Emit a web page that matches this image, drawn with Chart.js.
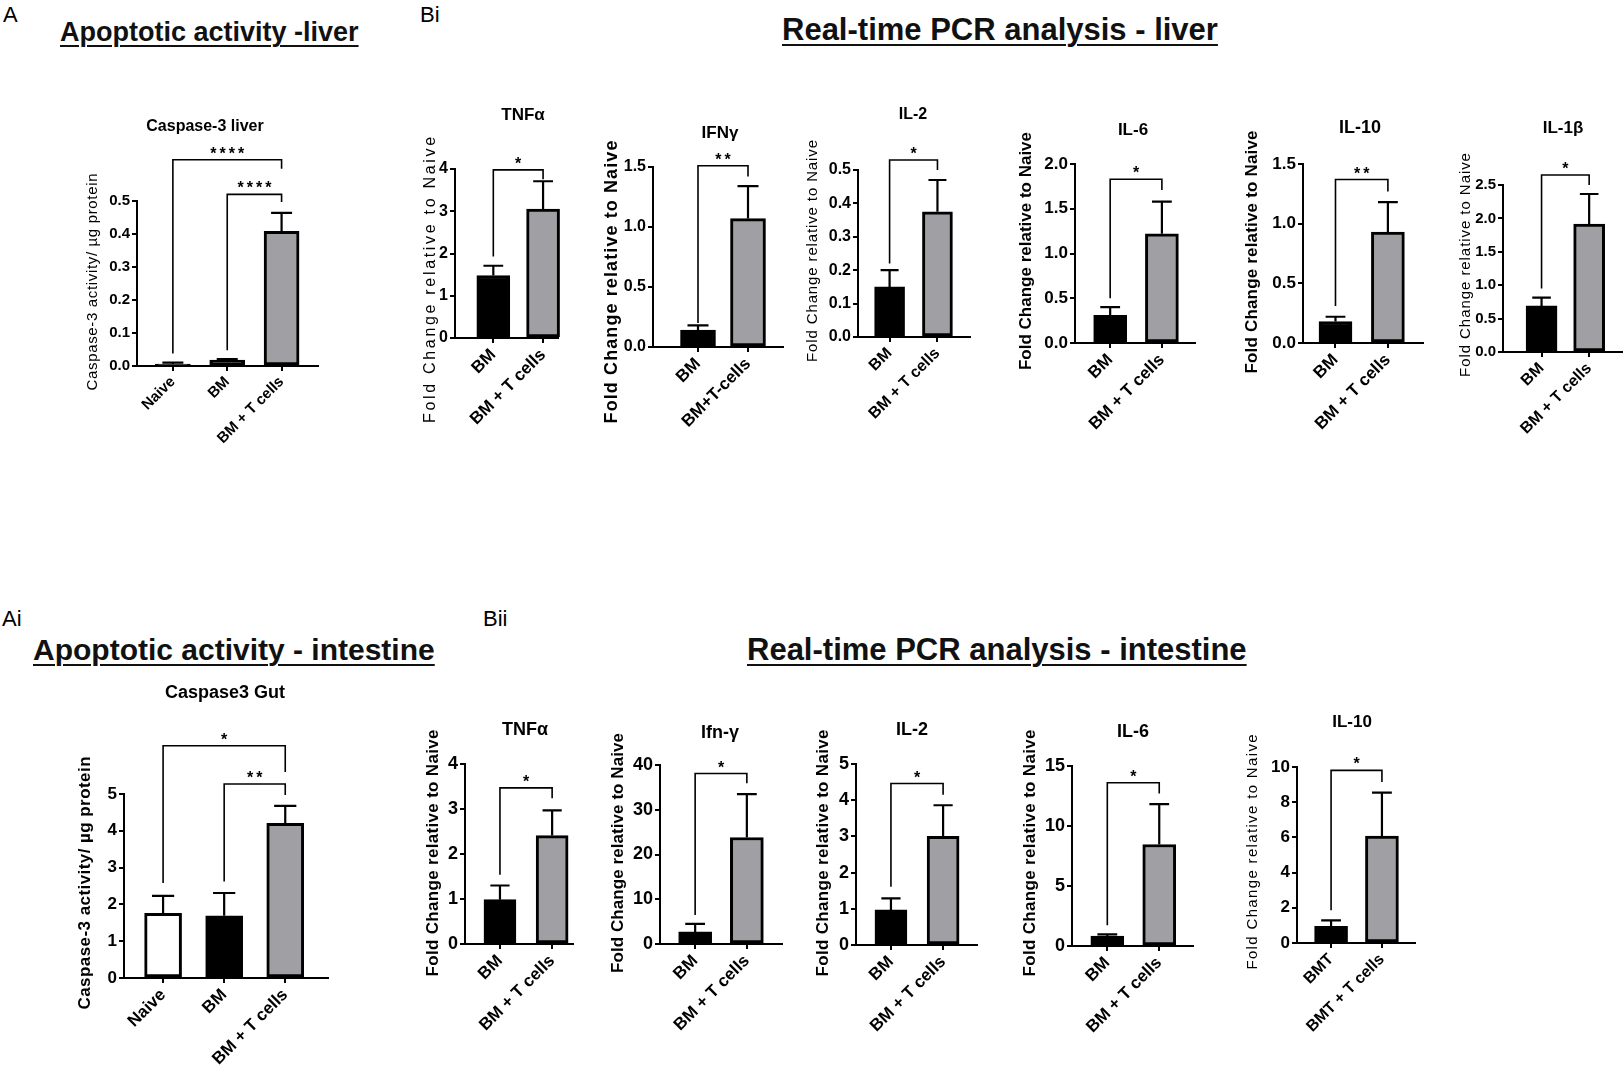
<!DOCTYPE html>
<html>
<head>
<meta charset="utf-8">
<script src="https://cdn.jsdelivr.net/npm/chart.js@4.4.0/dist/chart.umd.min.js"></script>
<style>
body { margin: 0; width: 1624px; height: 1075px; background: #fff; position: relative; overflow: hidden; font-family: 'Liberation Sans', Arial, sans-serif; }
.tag { position: absolute; line-height: 1; font-size: 22px; color: #000; }
.hdr { position: absolute; line-height: 1; font-weight: bold; color: #111; white-space: nowrap;
       text-decoration: underline; text-decoration-thickness: 2px; text-underline-offset: 4px; }
canvas { position: absolute; }
</style>
</head>
<body>
<div class="tag" style="left:3px;top:4px">A</div>
<div class="hdr" style="left:60px;top:19px;font-size:27px">Apoptotic activity -liver</div>
<div class="tag" style="left:420px;top:4px">Bi</div>
<div class="hdr" style="left:782px;top:14px;font-size:31px">Real-time PCR analysis - liver</div>
<div class="tag" style="left:2px;top:608px">Ai</div>
<div class="hdr" style="left:33px;top:635px;font-size:30px">Apoptotic activity - intestine</div>
<div class="tag" style="left:483px;top:608px">Bii</div>
<div class="hdr" style="left:747px;top:634px;font-size:31px">Real-time PCR analysis - intestine</div>

<script>
// ---- data ----
const twoGroups = ['BM', 'BM + T cells'];

const casGroups = ['Naive', 'BM', 'BM + T cells'];
const casLiverMean = [0.006, 0.018, 0.408];
const casLiverErr = [0.01, 0.021, 0.464];
const casGutMean = [1.76, 1.69, 4.2];
const casGutErr = [2.23, 2.31, 4.68];
// [from, to, level, left leg end, right leg end, label]
const casLiverSig = [[0, 2, 0.625, 0.038, 0.598, '****'], [1, 2, 0.52, 0.048, 0.497, '****']];
const casGutSig = [[0, 2, 6.31, 2.58, 5.6, '*'], [1, 2, 5.27, 2.62, 4.97, '**']];

const liverGenes = ['TNFα', 'IFNγ', 'IL-2', 'IL-6', 'IL-10', 'IL-1β'];
const liverGroups = [twoGroups, ['BM', 'BM+T-cells'], twoGroups, twoGroups, twoGroups, twoGroups];
const liverBM = [1.48, 0.14, 0.15, 0.31, 0.18, 0.69];
const liverBMErr = [1.71, 0.18, 0.20, 0.40, 0.22, 0.815];
const liverBMT = [3.05, 1.07, 0.375, 1.22, 0.93, 1.915];
const liverBMTErr = [3.71, 1.34, 0.47, 1.58, 1.18, 2.365];
const liverYMax = [4, 1.5, 0.5, 2, 1.5, 2.5];
const liverYStep = [1, 0.5, 0.1, 0.5, 0.5, 0.5];
const liverStars = ['*', '**', '*', '*', '**', '*'];
const liverBracket = [3.98, 1.51, 0.53, 1.83, 1.37, 2.65];
const liverLegBM = [1.93, 0.2, 0.22, 0.5, 0.31, 0.95];
const liverLegBMT = [3.76, 1.42, 0.5, 1.71, 1.27, 2.5];

const gutGenes = ['TNFα', 'Ifn-γ', 'IL-2', 'IL-6', 'IL-10'];
const gutGroups = [twoGroups, twoGroups, twoGroups, twoGroups, ['BMT', 'BMT + T cells']];
const gutBM = [0.985, 2.7, 0.97, 0.83, 0.95];
const gutBMErr = [1.30, 4.5, 1.29, 0.97, 1.29];
const gutBMT = [2.41, 23.8, 3.0, 8.46, 6.08];
const gutBMTErr = [2.97, 33.5, 3.86, 11.83, 8.54];
const gutYMax = [4, 40, 5, 15, 10];
const gutYStep = [1, 10, 1, 5, 2];
const gutStars = ['*', '*', '*', '*', '*'];
const gutBracket = [3.47, 38.1, 4.46, 13.6, 9.81];
const gutLegBM = [1.54, 6.5, 1.61, 1.73, 1.86];
const gutLegBMT = [3.24, 35.9, 4.15, 12.7, 9.15];

const yTitleFold = 'Fold Change relative to Naive';
const yTitleCas = 'Caspase-3 activity/ µg protein';

// ---- layout (page pixels) ----
const casLiverBox = { axisX: 137, rightX: 318, zeroY: 366, topY: 201, padL: 0.66, padR: 0.67, barW: 35, titleX: 205, titleY: 127, yTitleX: 93, yTitleY: 282, yTitleLen: 217, yTitleSize: 15, yTitleBold: false, tickSize: 15, xTickSize: 15, titleSize: 16 };
const casGutBox = { axisX: 124, rightX: 328, zeroY: 978, topY: 794, padL: 0.64, padR: 0.70, barW: 37, titleX: 225, titleY: 693, yTitleX: 85, yTitleY: 883, yTitleLen: 253, yTitleSize: 17, yTitleBold: true, tickSize: 17, xTickSize: 17, titleSize: 18 };
const liverBoxes = [
  { axisX: 455, rightX: 558, zeroY: 338, topY: 169, padL: 0.77, padR: 0.3, barW: 33, titleX: 523, titleY: 115, yTitleX: 431, yTitleY: 280, yTitleLen: 286, yTitleSize: 16, yTitleBold: false, tickSize: 16, xTickSize: 17, titleSize: 17 },
  { axisX: 653, rightX: 783, zeroY: 347, topY: 167, padL: 0.9, padR: 0.7, barW: 35, titleX: 720, titleY: 133, yTitleX: 612, yTitleY: 282, yTitleLen: 283, yTitleSize: 18, yTitleBold: true, tickSize: 16, xTickSize: 17, titleSize: 17 },
  { axisX: 858, rightX: 970, zeroY: 337, topY: 170, padL: 0.66, padR: 0.68, barW: 30, titleX: 913, titleY: 115, yTitleX: 813, yTitleY: 251, yTitleLen: 222, yTitleSize: 15, yTitleBold: false, tickSize: 16, xTickSize: 16, titleSize: 16 },
  { axisX: 1075, rightX: 1195, zeroY: 343, topY: 164, padL: 0.68, padR: 0.64, barW: 33, titleX: 1133, titleY: 130, yTitleX: 1026, yTitleY: 251, yTitleLen: 237, yTitleSize: 17, yTitleBold: true, tickSize: 17, xTickSize: 17, titleSize: 17 },
  { axisX: 1303, rightX: 1423, zeroY: 343, topY: 164, padL: 0.62, padR: 0.67, barW: 33, titleX: 1360, titleY: 128, yTitleX: 1252, yTitleY: 252, yTitleLen: 243, yTitleSize: 17, yTitleBold: true, tickSize: 17, xTickSize: 17, titleSize: 18 },
  { axisX: 1503, rightX: 1622, zeroY: 352, topY: 185, padL: 0.81, padR: 0.69, barW: 31, titleX: 1563, titleY: 128, yTitleX: 1466, yTitleY: 265, yTitleLen: 224, yTitleSize: 15, yTitleBold: false, tickSize: 15, xTickSize: 16, titleSize: 17 }
];
const gutBoxes = [
  { axisX: 465, rightX: 573, zeroY: 944, topY: 764, padL: 0.67, padR: 0.4, barW: 32, titleX: 525, titleY: 730, yTitleX: 433, yTitleY: 853, yTitleLen: 247, yTitleSize: 17, yTitleBold: true, tickSize: 18, xTickSize: 17, titleSize: 18 },
  { axisX: 660, rightX: 782, zeroY: 944, topY: 765, padL: 0.68, padR: 0.68, barW: 33, titleX: 720, titleY: 733, yTitleX: 618, yTitleY: 853, yTitleLen: 240, yTitleSize: 17, yTitleBold: true, tickSize: 18, xTickSize: 17, titleSize: 18 },
  { axisX: 856, rightX: 977, zeroY: 945, topY: 764, padL: 0.67, padR: 0.65, barW: 32, titleX: 912, titleY: 730, yTitleX: 823, yTitleY: 853, yTitleLen: 247, yTitleSize: 17, yTitleBold: true, tickSize: 18, xTickSize: 17, titleSize: 18 },
  { axisX: 1072, rightX: 1193, zeroY: 946, topY: 766, padL: 0.68, padR: 0.65, barW: 33, titleX: 1133, titleY: 732, yTitleX: 1030, yTitleY: 853, yTitleLen: 247, yTitleSize: 17, yTitleBold: true, tickSize: 18, xTickSize: 17, titleSize: 18 },
  { axisX: 1297, rightX: 1415, zeroY: 943, topY: 767, padL: 0.67, padR: 0.65, barW: 33, titleX: 1352, titleY: 722, yTitleX: 1253, yTitleY: 852, yTitleLen: 235, yTitleSize: 15, yTitleBold: false, tickSize: 17, xTickSize: 16, titleSize: 17 }
];

const FONT = "'Liberation Sans', Arial, sans-serif";
const GREY = '#a0a0a4';
Chart.defaults.font.family = FONT;
Chart.defaults.color = '#000';

// error bars, brackets, panel title and y title
function panelExtras(p, left, top) {
  return {
    id: 'panelExtras',
    afterDraw(chart) {
      const ctx = chart.ctx;
      const xs = chart.scales.x, ys = chart.scales.y;
      const bars = chart.getDatasetMeta(0).data;
      ctx.save();
      ctx.strokeStyle = '#000';
      ctx.fillStyle = '#000';
      ctx.lineWidth = 2.2;
      p.errors.forEach((e, i) => {
        const b = bars[i];
        const yTop = ys.getPixelForValue(e);
        const half = b.width * 0.3;
        ctx.beginPath();
        ctx.moveTo(b.x, b.y);
        ctx.lineTo(b.x, yTop);
        ctx.moveTo(b.x - half, yTop);
        ctx.lineTo(b.x + half, yTop);
        ctx.stroke();
      });
      ctx.lineWidth = 1.6;
      ctx.textAlign = 'center';
      ctx.textBaseline = 'alphabetic';
      p.sig.forEach(s => {
        const x1 = xs.getPixelForValue(s[0] + 1);
        const x2 = xs.getPixelForValue(s[1] + 1);
        const yl = ys.getPixelForValue(s[2]);
        ctx.beginPath();
        ctx.moveTo(x1, ys.getPixelForValue(s[3]));
        ctx.lineTo(x1, yl);
        ctx.lineTo(x2, yl);
        ctx.lineTo(x2, ys.getPixelForValue(s[4]));
        ctx.stroke();
        ctx.font = 'bold 16px ' + FONT;
        ctx.letterSpacing = '3px';
        ctx.fillText(s[5], (x1 + x2) / 2 + 1.5, yl - 1);
        ctx.letterSpacing = '0px';
      });
      // panel title
      ctx.font = 'bold ' + p.titleSize + 'px ' + FONT;
      ctx.textBaseline = 'middle';
      ctx.fillText(p.title, p.titleX - left, p.titleY - top);
      // rotated y-axis title, spaced to its length in the figure
      ctx.font = (p.yTitleBold ? 'bold ' : '') + p.yTitleSize + 'px ' + FONT;
      const w = ctx.measureText(p.yTitle).width;
      const sp = Math.max(0, (p.yTitleLen - w) / (p.yTitle.length - 1));
      ctx.letterSpacing = sp.toFixed(2) + 'px';
      ctx.translate(p.yTitleX - left, p.yTitleY - top);
      ctx.rotate(-Math.PI / 2);
      ctx.fillText(p.yTitle, sp / 2, 0);
      ctx.restore();
    }
  };
}

function makeChart(p) {
  const left = Math.round(p.yTitleX - p.yTitleSize * 0.6 - 4);
  const top = Math.round(p.titleY - 22);
  const right = Math.round(p.rightX + 6);
  const bottom = Math.round(p.zeroY + 122);
  const n = p.labels.length;
  const canvas = document.createElement('canvas');
  canvas.width = right - left;
  canvas.height = bottom - top;
  canvas.style.left = left + 'px';
  canvas.style.top = top + 'px';
  document.body.appendChild(canvas);
  const dec = p.yStep < 1 ? 1 : 0;
  const axisLine = { display: true, color: '#000', width: 2 };
  const tickLines = { drawOnChartArea: false, drawTicks: true, tickLength: 5, color: '#000', lineWidth: 2, offset: false };

  new Chart(canvas, {
    type: 'bar',
    data: {
      datasets: [{
        data: p.values.map((v, i) => ({ x: i + 1, y: v })),
        backgroundColor: p.colors,
        borderColor: '#000',
        borderWidth: 3,
        borderSkipped: false,
        barThickness: p.barW,
        clip: false
      }]
    },
    options: {
      responsive: false,
      animation: false,
      events: [],
      layout: { padding: { left: 0, top: p.topY - top, right: right - p.rightX, bottom: 0 } },
      plugins: { legend: { display: false }, tooltip: { enabled: false } },
      scales: {
        x: {
          type: 'linear',
          offset: false,
          min: 1 - p.padL,
          max: n + p.padR,
          afterBuildTicks: s => { s.ticks = p.labels.map((_, i) => ({ value: i + 1 })); },
          afterFit: s => { s.height = bottom - p.zeroY; s.paddingLeft = 0; s.paddingRight = 0; },
          ticks: {
            autoSkip: false, minRotation: 45, maxRotation: 45, padding: 2,
            font: { size: p.xTickSize, weight: 'bold' },
            callback: v => p.labels[Math.round(v) - 1]
          },
          grid: tickLines,
          border: axisLine
        },
        y: {
          min: 0,
          max: p.yMax,
          afterFit: s => { s.width = p.axisX - left; },
          ticks: {
            stepSize: p.yStep, padding: 2,
            font: { size: p.tickSize, weight: 'bold' },
            callback: v => v.toFixed(dec)
          },
          grid: tickLines,
          border: axisLine
        }
      }
    },
    plugins: [panelExtras(p, left, top)]
  });
}

makeChart(Object.assign({}, casLiverBox, {
  title: 'Caspase-3 liver', labels: casGroups, values: casLiverMean, errors: casLiverErr,
  colors: ['#000', '#000', GREY], sig: casLiverSig, yMax: 0.5, yStep: 0.1, yTitle: yTitleCas
}));
makeChart(Object.assign({}, casGutBox, {
  title: 'Caspase3 Gut', labels: casGroups, values: casGutMean, errors: casGutErr,
  colors: ['#fff', '#000', GREY], sig: casGutSig, yMax: 5, yStep: 1, yTitle: yTitleCas
}));
liverGenes.forEach((g, i) => makeChart(Object.assign({}, liverBoxes[i], {
  title: g, labels: liverGroups[i], values: [liverBM[i], liverBMT[i]], errors: [liverBMErr[i], liverBMTErr[i]],
  colors: ['#000', GREY], sig: [[0, 1, liverBracket[i], liverLegBM[i], liverLegBMT[i], liverStars[i]]],
  yMax: liverYMax[i], yStep: liverYStep[i], yTitle: yTitleFold
})));
gutGenes.forEach((g, i) => makeChart(Object.assign({}, gutBoxes[i], {
  title: g, labels: gutGroups[i], values: [gutBM[i], gutBMT[i]], errors: [gutBMErr[i], gutBMTErr[i]],
  colors: ['#000', GREY], sig: [[0, 1, gutBracket[i], gutLegBM[i], gutLegBMT[i], gutStars[i]]],
  yMax: gutYMax[i], yStep: gutYStep[i], yTitle: yTitleFold
})));
</script>
</body>
</html>
